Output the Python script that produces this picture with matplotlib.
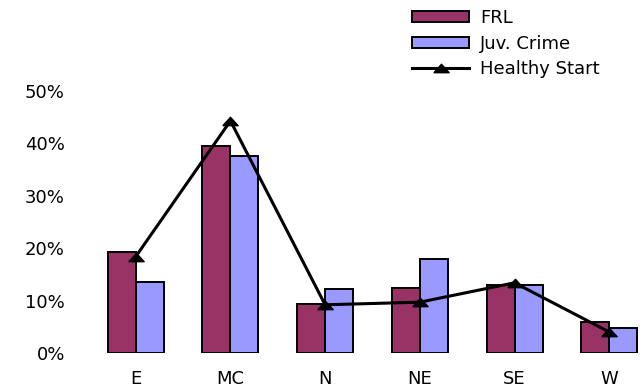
import numpy as np
import matplotlib
matplotlib.use("Agg")
import matplotlib.pyplot as plt

regions = ["E", "MC", "N", "NE", "SE", "W"]
frl = [19.3, 39.5, 9.4, 12.5, 13.0, 5.9]
juv_crime = [13.5, 37.6, 12.2, 17.9, 13.0, 4.8]
healthy_start = [18.4, 44.3, 9.2, 9.7, 13.4, 4.0]
y_ticks = [0, 10, 20, 30, 40, 50]
y_labels = ["0%", "10%", "20%", "30%", "40%", "50%"]

plt.rcParams["font.family"] = ["DejaVu Sans"]
plt.rcParams["font.size"] = 13

W, H = 644, 387
fig = plt.figure(figsize=(W / 100, H / 100), dpi=100)
ax = fig.add_axes([88.4 / W, 34 / H, 554 / W, 262 / H])

x = np.arange(len(regions))
bw = 0.296
b1 = ax.bar(x - bw / 2, frl, bw, color="#993366", edgecolor="black", linewidth=1.4, label="FRL")
b2 = ax.bar(x + bw / 2, juv_crime, bw, color="#9999FF", edgecolor="black", linewidth=1.4,
            label="Juv. Crime")

# flattened triangle marker
tri = [(-1, -0.55), (1, -0.55), (0, 0.55), (-1, -0.55)]
ln, = ax.plot(x, healthy_start, color="black", linewidth=2.2, marker=tri, markersize=11,
              label="Healthy Start")

ax.set_xlim(-0.5, 5.35)
ax.set_ylim(0, 50)
ax.set_xticks(x)
ax.set_xticklabels(regions)
ax.set_yticks(y_ticks)
ax.set_yticklabels(y_labels)
ax.tick_params(axis="both", length=0)
ax.tick_params(axis="y", pad=17)
ax.tick_params(axis="x", pad=12)
for s in ax.spines.values():
    s.set_visible(False)

fs = 13 * 100 / 72
ax.legend(handles=[b1, b2, ln], loc="upper left", bbox_to_anchor=(412 / W, 1 - 9 / H),
          bbox_transform=fig.transFigure, frameon=False, borderpad=0, borderaxespad=0,
          handlelength=57 / fs, handleheight=10 / fs, handletextpad=11 / fs, labelspacing=0.42)

fig.savefig("out.png", dpi=100)
